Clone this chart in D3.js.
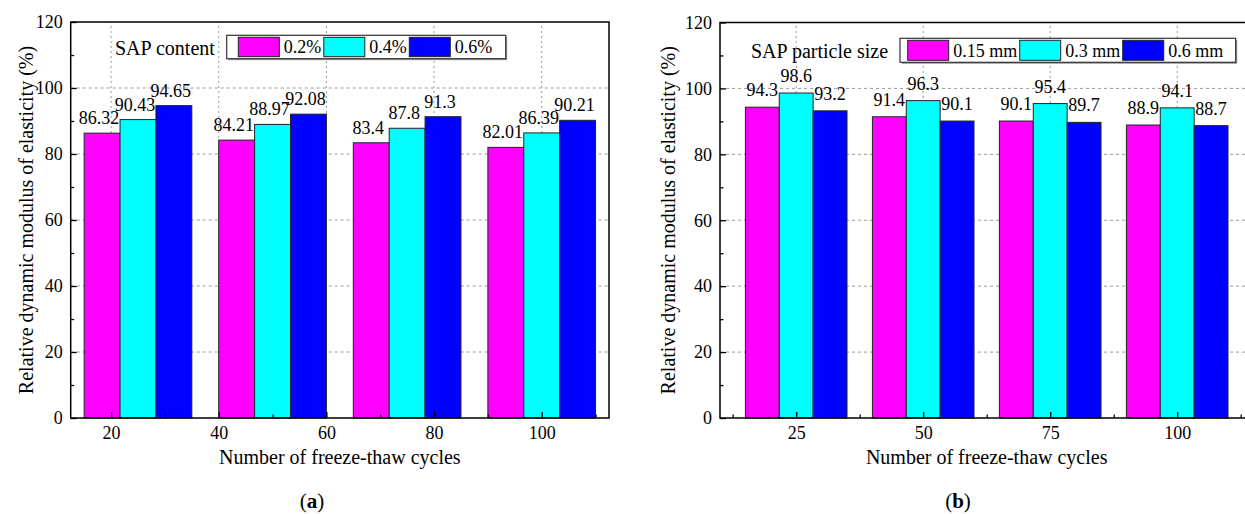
<!DOCTYPE html>
<html>
<head>
<meta charset="utf-8">
<script src="https://cdn.jsdelivr.net/npm/d3@7"></script>
<style>
  html, body { margin: 0; padding: 0; background: #fff; }
  svg { display: block; font-family: "Liberation Serif", "Times New Roman", serif; }
</style>
</head>
<body>
<svg id="chart" width="1245" height="514"></svg>
<script>
// ---- Panel (a): SAP content ----
const cyclesA = [25, 50, 75, 100];
const seriesNamesA = ["0.2%", "0.4%", "0.6%"];
const content02 = [86.32, 84.21, 83.4, 82.01];
const content04 = [90.43, 88.97, 87.8, 86.39];
const content06 = [94.65, 92.08, 91.3, 90.21];
const xTicksA = [20, 40, 60, 80, 100];
const xMinorA = [30, 50, 70, 90, 110];

// ---- Panel (b): SAP particle size ----
const cyclesB = [25, 50, 75, 100];
const seriesNamesB = ["0.15 mm", "0.3 mm", "0.6 mm"];
const size015 = [94.3, 91.4, 90.1, 88.9];
const size03 = [98.6, 96.3, 95.4, 94.1];
const size06 = [93.2, 90.1, 89.7, 88.7];
const xTicksB = [25, 50, 75, 100];
const xMinorB = [12.5, 37.5, 62.5, 87.5, 112.5];

const yTicks = [0, 20, 40, 60, 80, 100, 120];
const yMinor = [10, 30, 50, 70, 90, 110];
const colors = ["#ff00ff", "#00ffff", "#0000ff"];

const svg = d3.select("#chart");

function drawPanel(cfg) {
  const g = svg.append("g");
  const x = d3.scaleLinear().domain(cfg.xDomain).range([cfg.left, cfg.right]);
  const y = d3.scaleLinear().domain([0, 120]).range([418, cfg.top]);
  const barW = 20 / 3; // width of one bar in x units

  // clip so the plot frame can run past the page edge
  // grid lines
  g.append("g").selectAll("line.h").data(yTicks.filter(v => v > 0 && v < 120)).join("line")
    .attr("x1", cfg.left).attr("x2", cfg.right)
    .attr("y1", d => y(d)).attr("y2", d => y(d))
    .attr("stroke", "#9a9a9a").attr("stroke-width", 1).attr("stroke-dasharray", "3,3");
  g.append("g").selectAll("line.v").data(cfg.xTicks).join("line")
    .attr("x1", d => x(d)).attr("x2", d => x(d))
    .attr("y1", y(0)).attr("y2", y(120))
    .attr("stroke", "#9a9a9a").attr("stroke-width", 1).attr("stroke-dasharray", "2,3");

  // bars
  const series = cfg.series;
  series.forEach((vals, si) => {
    g.append("g").selectAll("rect").data(vals).join("rect")
      .attr("x", (d, i) => x(cfg.cycles[i] + (si - 1.5) * barW))
      .attr("width", (d, i) => x(cfg.cycles[i] + (si - 0.5) * barW) - x(cfg.cycles[i] + (si - 1.5) * barW))
      .attr("y", d => y(d))
      .attr("height", d => y(0) - y(d))
      .attr("fill", colors[si])
      .attr("stroke", "#222").attr("stroke-width", 1);
  });

  // value labels
  series.forEach((vals, si) => {
    g.append("g").selectAll("text").data(vals).join("text")
      .attr("x", (d, i) => x(cfg.cycles[i] + (si - 1) * barW) + cfg.labelDx)
      .attr("y", d => y(d) - cfg.labelGap)
      .attr("text-anchor", "middle")
      .attr("font-size", 18)
      .attr("fill", "#000")
      .text(d => String(d));
  });

  // axes: major ticks inward with labels
  const yAxis = d3.axisLeft(y).tickValues(yTicks).tickSize(-6).tickPadding(8);
  const ya = g.append("g").attr("transform", `translate(${cfg.left},0)`).call(yAxis);
  const yMin = d3.axisLeft(y).tickValues(yMinor).tickSize(-3.5).tickFormat("");
  const ym = g.append("g").attr("transform", `translate(${cfg.left},0)`).call(yMin);

  const xAxis = d3.axisBottom(x).tickValues(cfg.xTicks).tickSize(-6).tickPadding(8);
  const xa = g.append("g").attr("transform", `translate(0,${y(0)})`).call(xAxis);
  const xMin = d3.axisBottom(x).tickValues(cfg.xMinor).tickSize(-3.5).tickFormat("");
  const xm = g.append("g").attr("transform", `translate(0,${y(0)})`).call(xMin);

  [ya, ym, xa, xm].forEach(a => {
    a.select(".domain").remove();
    a.selectAll(".tick line").attr("stroke", "#000").attr("stroke-width", 1.3);
    a.selectAll(".tick text").attr("font-size", 18).attr("font-family", "Liberation Serif, Times New Roman, serif").attr("fill", "#000");
  });

  // plot frame
  g.append("rect")
    .attr("x", cfg.left).attr("y", y(120))
    .attr("width", cfg.right - cfg.left).attr("height", y(0) - y(120))
    .attr("fill", "none").attr("stroke", "#000").attr("stroke-width", 1.5);

  // legend
  const L = cfg.legend;
  g.append("rect").attr("x", L.x + 1.5).attr("y", L.y + 1.5).attr("width", L.w).attr("height", L.h)
    .attr("fill", "#9a9a9a");
  g.append("rect").attr("x", L.x).attr("y", L.y).attr("width", L.w).attr("height", L.h)
    .attr("fill", "#fff").attr("stroke", "#333").attr("stroke-width", 1.2);
  let cx = L.x + L.pad;
  cfg.names.forEach((name, si) => {
    g.append("rect").attr("x", cx).attr("y", L.y + 2).attr("width", 41).attr("height", L.h - 4)
      .attr("fill", colors[si]).attr("stroke", "#222").attr("stroke-width", 1);
    const t = g.append("text").attr("x", cx + 45.5).attr("y", L.y + L.h - 5.5)
      .attr("font-size", 18).attr("fill", "#000").text(name);
    cx += 45.5 + t.node().getComputedTextLength() + 2.5;
  });
  g.append("text").attr("x", L.titleX).attr("y", L.y + L.h - 4)
    .attr("font-size", 20).attr("fill", "#000").text(L.title);

  // axis titles
  g.append("text")
    .attr("transform", `translate(${cfg.yTitleX},${(y(0) + y(120)) / 2}) rotate(-90)`)
    .attr("text-anchor", "middle").attr("font-size", 20).attr("fill", "#000")
    .text("Relative dynamic modulus of elasticity (%)");
  g.append("text")
    .attr("x", (cfg.left + cfg.right) / 2).attr("y", 464)
    .attr("text-anchor", "middle").attr("font-size", 20).attr("fill", "#000")
    .text("Number of freeze-thaw cycles");

  // panel caption
  const cap = g.append("text").attr("x", cfg.captionX).attr("y", 508)
    .attr("text-anchor", "middle").attr("font-size", 21).attr("fill", "#000");
  cap.append("tspan").text("(");
  cap.append("tspan").attr("font-weight", "bold").text(cfg.caption);
  cap.append("tspan").text(")");
}

drawPanel({
  cycles: cyclesA, series: [content02, content04, content06], names: seriesNamesA,
  xDomain: [12.5, 112.5], xTicks: xTicksA, xMinor: xMinorA,
  left: 70.7, right: 609, top: 22,
  labelDx: -3, labelGap: 9,
  legend: { x: 226.7, y: 35.3, w: 279, h: 23.4, pad: 11.6, title: "SAP content", titleX: 115 },
  yTitleX: 33, captionX: 312, caption: "a"
});

drawPanel({
  cycles: cyclesB, series: [size015, size03, size06], names: seriesNamesB,
  xDomain: [10, 115], xTicks: xTicksB, xMinor: xMinorB,
  left: 720, right: 1253.4, top: 22.5,
  labelDx: 0, labelGap: 11,
  legend: { x: 900, y: 38.3, w: 335.7, h: 24, pad: 7.7, title: "SAP particle size", titleX: 751 },
  yTitleX: 675, captionX: 958, caption: "b"
});
</script>
</body>
</html>
